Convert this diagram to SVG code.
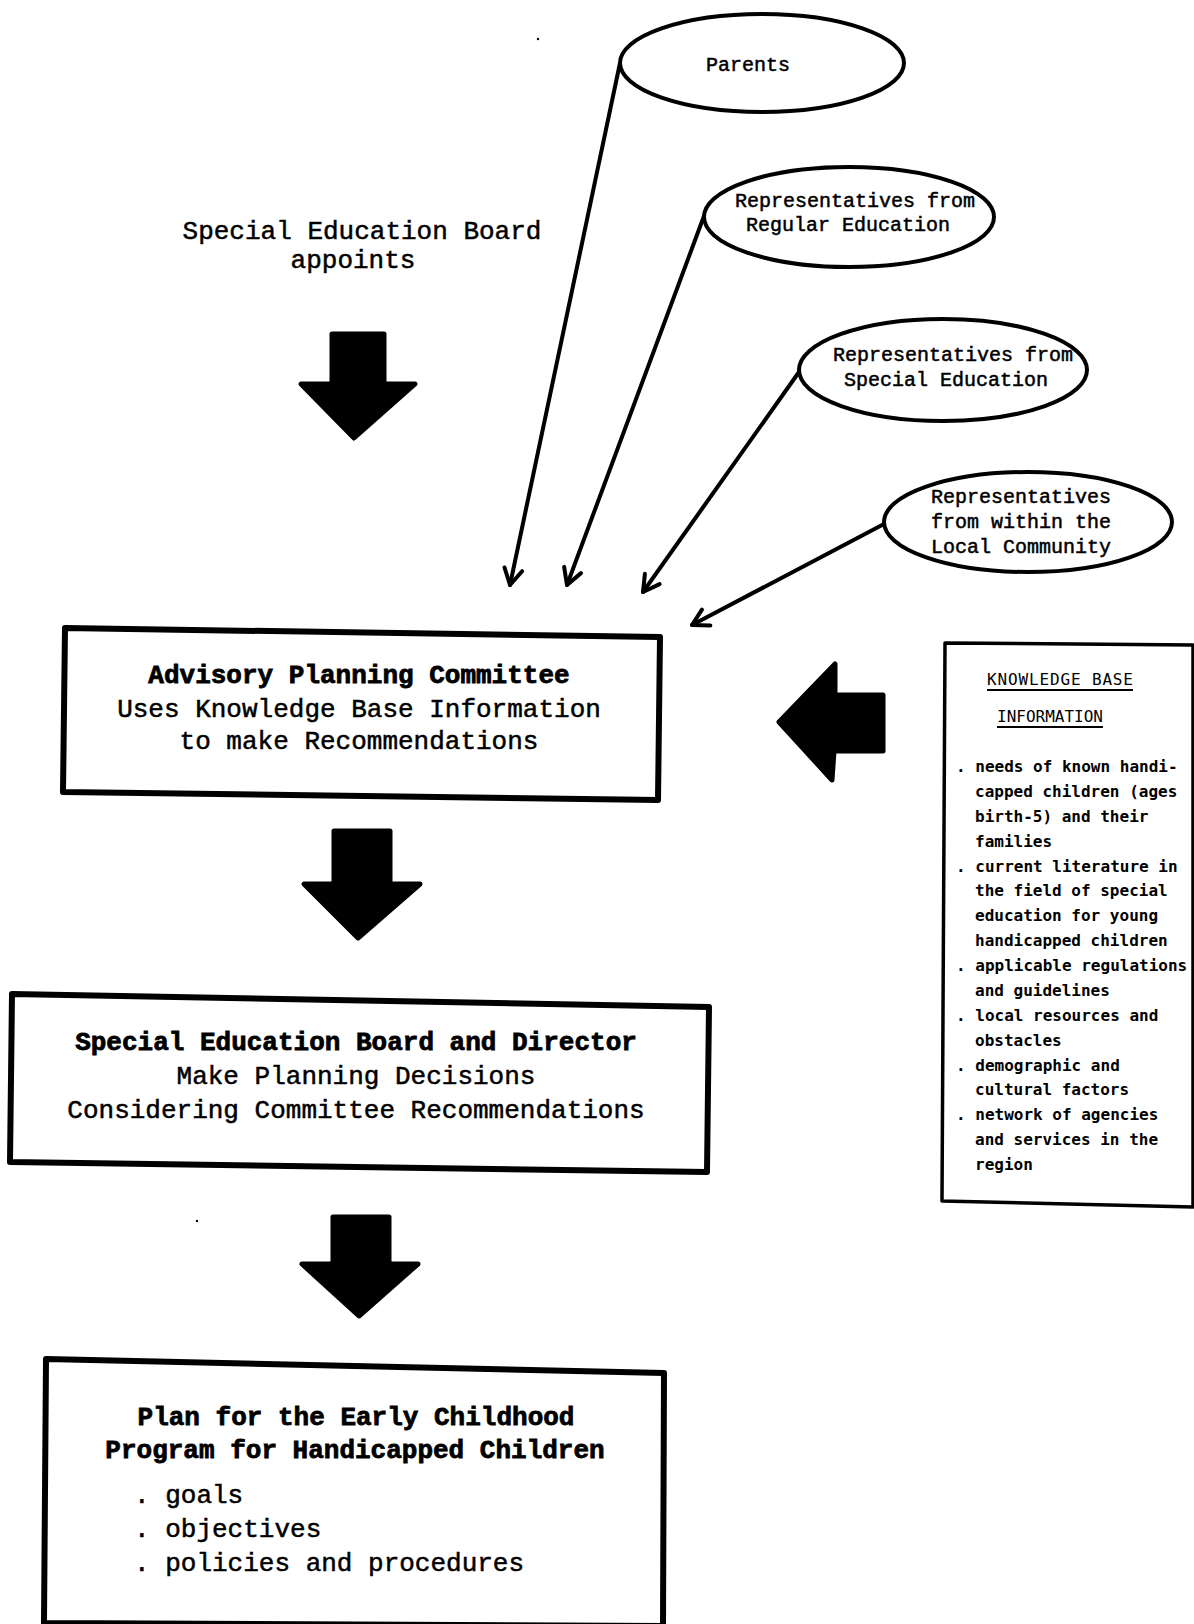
<svg xmlns="http://www.w3.org/2000/svg" width="1194" height="1624" viewBox="0 0 1194 1624">
<style>
.tw{font-family:"Liberation Mono","Courier New",monospace;fill:#000;stroke:#000;stroke-width:0.5}
.big{font-size:26px}
.b{font-weight:bold;stroke-width:0.8}
.el{font-size:20px}
.kb{font-family:"DejaVu Sans Mono","Liberation Mono",monospace;font-size:16px;font-weight:bold;fill:#000}
.kh{font-family:"DejaVu Sans Mono","Liberation Mono",monospace;font-size:16px;fill:#000}
.node{fill:#fff;stroke:#000;stroke-width:4}
.box{fill:#fff;stroke:#000;stroke-width:6;stroke-linejoin:round}
.bigarrow{fill:#000;stroke:#000;stroke-width:5;stroke-linejoin:round}
.conn{fill:none;stroke:#000;stroke-width:4;stroke-linecap:round}
</style>
<defs>
<marker id="ah" viewBox="0 0 24 24" refX="21" refY="12" markerWidth="24" markerHeight="24" orient="auto" markerUnits="userSpaceOnUse">
<path d="M5,3 L21,12 L5,21" fill="none" stroke="#000" stroke-width="4" stroke-linecap="round" stroke-linejoin="round"/>
</marker>
</defs>
<rect width="1194" height="1624" fill="#fff"/>

<g id="connectors">
<line class="conn" x1="620" y1="63" x2="510" y2="585" marker-end="url(#ah)"/>
<line class="conn" x1="704" y1="216" x2="567" y2="585" marker-end="url(#ah)"/>
<line class="conn" x1="799" y1="372" x2="643" y2="592" stroke-width="5" marker-end="url(#ah)"/>
<line class="conn" x1="884" y1="524" x2="692" y2="625" stroke-width="6" marker-end="url(#ah)"/>
</g>

<g id="big-arrows">
<polygon id="arrow-appoints" class="bigarrow" points="332,334 384,334 384,384 415,384 354,438 301,384 332,384"/>
<polygon id="arrow-committee-board" class="bigarrow" points="334,831 390,831 390,884 420,884 358,938 304,884 334,884"/>
<polygon id="arrow-board-plan" class="bigarrow" points="333,1217 389,1217 389,1264 418,1264 359,1316 302,1264 333,1264"/>
<polygon id="arrow-knowledge" class="bigarrow" points="883,695 883,751 834,751 832,780 779,722 835,664 835,695"/>
</g>

<g id="header">
<text class="tw big" x="362" y="239" text-anchor="middle">Special Education Board</text>
<text class="tw big" x="353" y="268" text-anchor="middle">appoints</text>
</g>

<g id="parents">
<ellipse class="node" cx="762" cy="63" rx="142" ry="49"/>
<text class="tw el" x="748" y="71" text-anchor="middle">Parents</text>
</g>

<g id="regular-education">
<ellipse class="node" cx="849" cy="217" rx="145" ry="50"/>
<text class="tw el" x="855" y="207" text-anchor="middle">Representatives from</text>
<text class="tw el" x="848" y="231" text-anchor="middle">Regular Education</text>
</g>

<g id="special-education">
<ellipse class="node" cx="943" cy="370" rx="144" ry="51"/>
<text class="tw el" x="953" y="361" text-anchor="middle">Representatives from</text>
<text class="tw el" x="946" y="386" text-anchor="middle">Special Education</text>
</g>

<g id="local-community">
<ellipse class="node" cx="1028" cy="522" rx="144" ry="50"/>
<text class="tw el" x="931" y="503">Representatives</text>
<text class="tw el" x="931" y="528">from within the</text>
<text class="tw el" x="931" y="553">Local Community</text>
</g>

<g id="advisory-committee">
<polygon class="box" points="65,628 660,637 658,800 63,792"/>
<text class="tw big b" x="359" y="683" text-anchor="middle">Advisory Planning Committee</text>
<text class="tw big" x="359" y="717" text-anchor="middle">Uses Knowledge Base Information</text>
<text class="tw big" x="359" y="749" text-anchor="middle">to make Recommendations</text>
</g>

<g id="knowledge-base">
<polygon class="box" style="stroke-width:3.5" points="945,643 1193,645 1193,1207 942,1201"/>
<text class="kh" x="987" y="685" textLength="146" lengthAdjust="spacing">KNOWLEDGE  BASE</text>
<line x1="987" y1="690" x2="1133" y2="690" stroke="#000" stroke-width="2"/>
<text class="kh" x="997" y="722" textLength="106" lengthAdjust="spacing">INFORMATION</text>
<line x1="997" y1="727" x2="1103" y2="727" stroke="#000" stroke-width="2"/>
<text class="kb" x="956" y="772">. needs of known handi-</text>
<text class="kb" x="975" y="797">capped children (ages</text>
<text class="kb" x="975" y="822">birth-5) and their</text>
<text class="kb" x="975" y="847">families</text>
<text class="kb" x="956" y="872">. current literature in</text>
<text class="kb" x="975" y="896">the field of special</text>
<text class="kb" x="975" y="921">education for young</text>
<text class="kb" x="975" y="946">handicapped children</text>
<text class="kb" x="956" y="971">. applicable regulations</text>
<text class="kb" x="975" y="996">and guidelines</text>
<text class="kb" x="956" y="1021">. local resources and</text>
<text class="kb" x="975" y="1046">obstacles</text>
<text class="kb" x="956" y="1071">. demographic and</text>
<text class="kb" x="975" y="1095">cultural factors</text>
<text class="kb" x="956" y="1120">. network of agencies</text>
<text class="kb" x="975" y="1145">and services in the</text>
<text class="kb" x="975" y="1170">region</text>
</g>

<g id="board-director">
<polygon class="box" points="12,994 709,1007 707,1172 10,1162"/>
<text class="tw big b" x="356" y="1050" text-anchor="middle">Special Education Board and Director</text>
<text class="tw big" x="356" y="1084" text-anchor="middle">Make Planning Decisions</text>
<text class="tw big" x="356" y="1118" text-anchor="middle">Considering Committee Recommendations</text>
</g>

<g id="plan">
<polygon class="box" points="46,1359 664,1373 663,1626 44,1623"/>
<text class="tw big b" x="356" y="1425" text-anchor="middle">Plan for the Early Childhood</text>
<text class="tw big b" x="355" y="1458" text-anchor="middle">Program for Handicapped Children</text>
<text class="tw big" x="134" y="1503">. goals</text>
<text class="tw big" x="134" y="1537">. objectives</text>
<text class="tw big" x="134" y="1571">. policies and procedures</text>
</g>

<g id="specks">
<circle cx="538" cy="39" r="1.2" fill="#000"/>
<circle cx="197" cy="1221" r="1.2" fill="#000"/>
</g>
</svg>
